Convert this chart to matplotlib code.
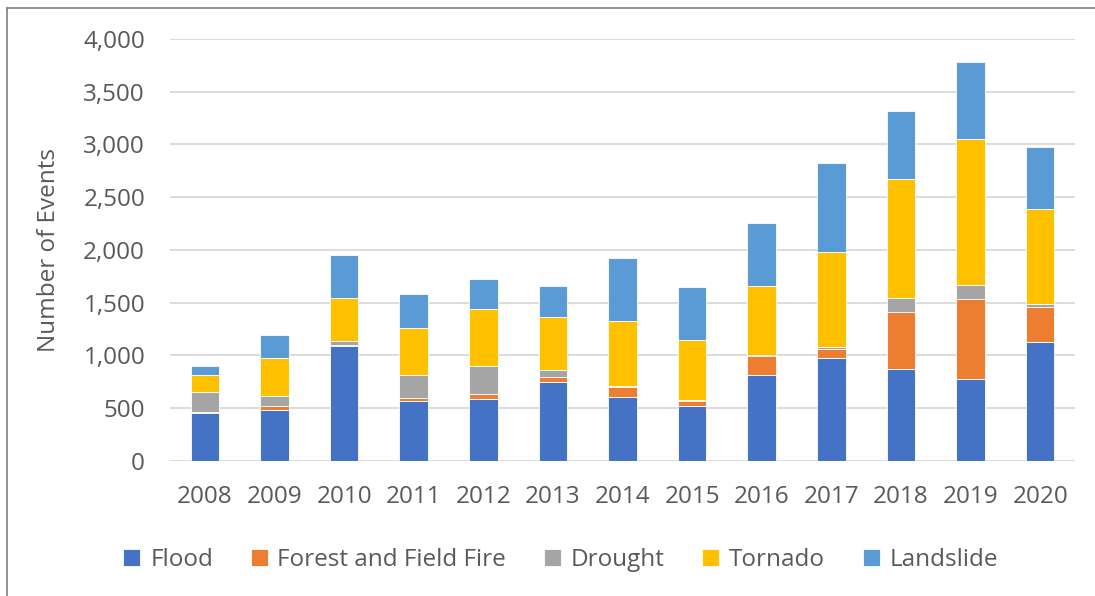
import numpy as np
import matplotlib.pyplot as plt
from matplotlib.lines import Line2D

years = ['2008', '2009', '2010', '2011', '2012', '2013', '2014',
         '2015', '2016', '2017', '2018', '2019', '2020']
flood = [452, 483, 1093, 569, 585, 752, 604, 524, 815, 974, 872, 777, 1128]
fire = [12, 38, 5, 25, 50, 44, 97, 45, 183, 91, 541, 762, 335]
drought = [193, 98, 43, 221, 263, 64, 13, 9, 5, 19, 129, 127, 25]
tornado = [158, 357, 407, 446, 546, 502, 616, 569, 659, 894, 1134, 1387, 901]
landslide = [89, 218, 405, 322, 281, 294, 597, 500, 597, 844, 642, 733, 585]

series = [('Flood', flood, '#4472C4'),
          ('Forest and Field Fire', fire, '#ED7D31'),
          ('Drought', drought, '#A5A5A5'),
          ('Tornado', tornado, '#FFC000'),
          ('Landslide', landslide, '#5B9BD5')]

plt.rcParams['font.family'] = ['Open Sans', 'DejaVu Sans']
txt = '#595959'
fs = 17.5

fig = plt.figure(figsize=(10.95, 5.96), dpi=100)
ax = fig.add_axes([0.1553, 0.2265, 0.8264, 0.7081])

x = np.arange(len(years))
bottom = np.zeros(len(years))
for name, vals, col in series:
    ax.bar(x, vals, 0.41, bottom=bottom, color=col, label=name,
           edgecolor='white', linewidth=0.6, zorder=3)
    bottom += np.array(vals)

ax.set_xlim(-0.5, len(years) - 0.5)
ax.set_ylim(0, 4000)
ax.set_yticks(range(0, 4001, 500))
ax.set_yticklabels([f'{v:,}' for v in range(0, 4001, 500)])
ax.set_xticks(x)
ax.set_xticklabels(years)
ax.grid(axis='y', color='#D9D9D9', linewidth=1.3, zorder=0)
for s in ax.spines.values():
    s.set_visible(False)
ax.tick_params(length=0, labelsize=fs, colors=txt)
ax.tick_params(axis='y', pad=18)
ax.tick_params(axis='x', pad=17)
ax.set_ylabel('Number of Events', fontsize=fs, color=txt, labelpad=16)

fig.legend(loc='center', bbox_to_anchor=(0.512, 0.06), ncol=5,
           frameon=False, fontsize=fs, labelcolor=txt,
           handlelength=0.7, handleheight=0.7, handletextpad=0.4,
           columnspacing=1.55)

# chart border (left and top edges)
fig.add_artist(Line2D([7 / 1095, 7 / 1095], [0, 1 - 8 / 596],
                      transform=fig.transFigure, color='#7F7F7F', linewidth=1.2))
fig.add_artist(Line2D([7 / 1095, 1], [1 - 8 / 596, 1 - 8 / 596],
                      transform=fig.transFigure, color='#7F7F7F', linewidth=1.2))

fig.savefig('out.png', dpi=100)
